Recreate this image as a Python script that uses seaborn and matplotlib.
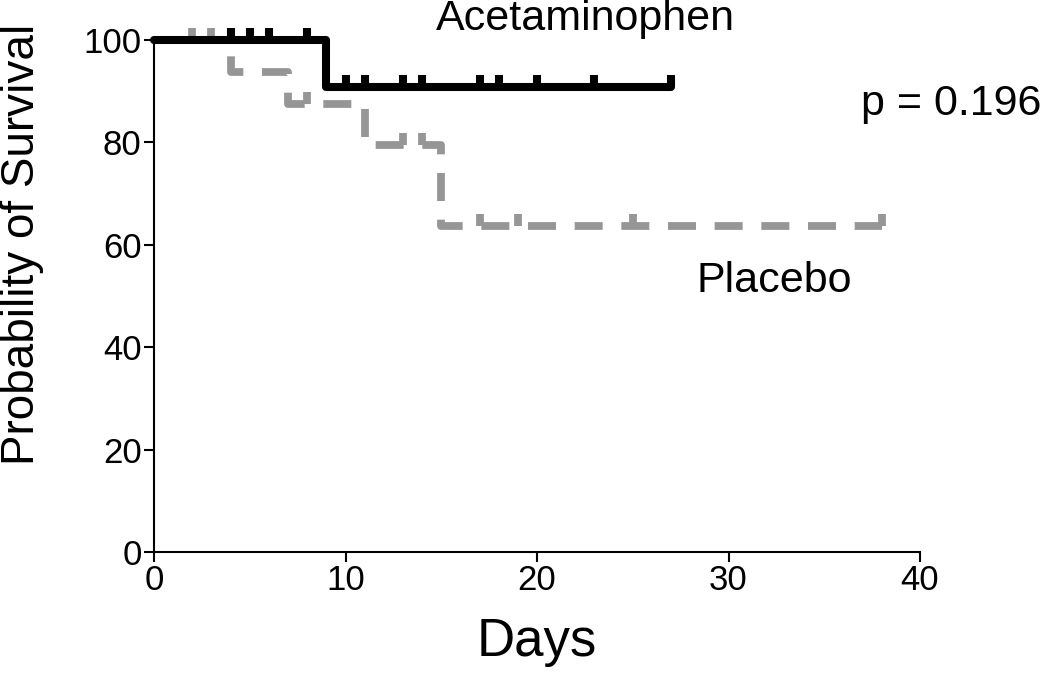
import numpy as np
import pandas as pd
import matplotlib
matplotlib.use("Agg")
import matplotlib.pyplot as plt
import seaborn as sns

# Kaplan-Meier step data (days, % surviving)
acet_days = [0, 9, 27]
acet_surv = [100, 90.9, 90.9]
acet_censor = [4, 5, 6, 8, 10, 11, 13, 14, 17, 18, 20, 23, 27]

plac_days = [0, 4, 7, 11, 15, 38]
plac_surv = [100, 93.8, 87.5, 79.5, 63.6, 63.6]
plac_censor = [2, 3, 8, 13, 14, 17, 19, 25, 38]

x_ticks = [0, 10, 20, 30, 40]
y_ticks = [0, 20, 40, 60, 80, 100]


def surv_at(days, surv, t):
    idx = np.searchsorted(days, t, side="right") - 1
    return np.array(surv)[idx]


acet = pd.DataFrame({"Days": acet_days, "Survival": acet_surv})
plac = pd.DataFrame({"Days": plac_days, "Survival": plac_surv})
acet_c = pd.DataFrame({"Days": acet_censor,
                       "Survival": surv_at(acet_days, acet_surv, acet_censor)})
plac_c = pd.DataFrame({"Days": plac_censor,
                       "Survival": surv_at(plac_days, plac_surv, plac_censor)})

sns.set_style("ticks")
plt.rcParams["font.family"] = ["Liberation Sans", "DejaVu Sans"]
plt.rcParams["text.color"] = "black"
plt.rcParams["axes.labelcolor"] = "black"
plt.rcParams["xtick.color"] = "black"
plt.rcParams["ytick.color"] = "black"

black = "#000000"
grey = "#969696"

fig = plt.figure(figsize=(10.5, 6.9), dpi=100)
ax = fig.add_axes([0.1467, 0.2, 0.7295, 0.742])

sns.lineplot(data=plac, x="Days", y="Survival", drawstyle="steps-post",
             color=grey, linewidth=5.6, linestyle=(0, (3.6, 2.4)),
             estimator=None, sort=False, clip_on=False, ax=ax)
sns.scatterplot(data=plac_c, x="Days", y="Survival", marker=2, s=80,
                color=grey, linewidth=5.6, clip_on=False, ax=ax)
sns.lineplot(data=acet, x="Days", y="Survival", drawstyle="steps-post",
             color=black, linewidth=5.8, estimator=None, sort=False,
             clip_on=False, ax=ax)
sns.scatterplot(data=acet_c, x="Days", y="Survival", marker=2, s=80,
                color=black, linewidth=5.8, clip_on=False, ax=ax)

ax.set_xlim(0, 40)
ax.set_ylim(0, 100)
ax.set_xticks(x_ticks)
ax.set_yticks(y_ticks)
ax.tick_params(labelsize=25, width=1.5, length=7, color="black", pad=2)
sns.despine(ax=ax)
for s in ["left", "bottom"]:
    ax.spines[s].set_linewidth(1.5)
    ax.spines[s].set_color("black")

ax.set_xlabel("Days", fontsize=38, labelpad=14)
ax.set_ylabel("Probability of Survival", fontsize=33, va="center")
ax.yaxis.set_label_coords(-0.172, 0.60)

ax.text(14.7, 102, "Acetaminophen", fontsize=31, va="baseline")
ax.text(36.9, 85.4, "p = 0.196", fontsize=31, va="baseline")
ax.text(28.35, 50.8, "Placebo", fontsize=31, va="baseline")

fig.savefig("out.png", dpi=100)
